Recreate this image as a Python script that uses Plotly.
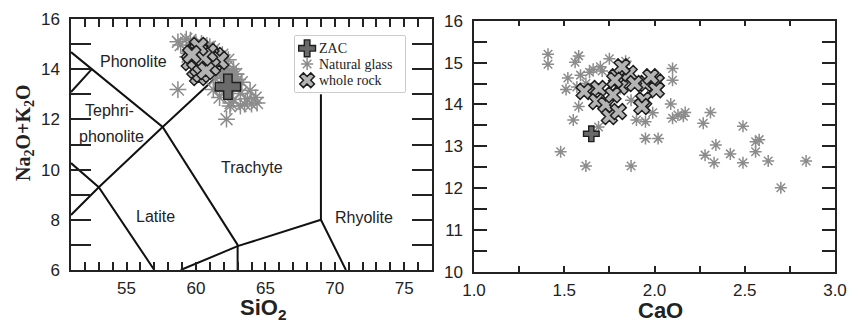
import plotly.graph_objects as go

# ---------------- data ----------------
# Natural glass: total alkali (shared), SiO2 (left panel), CaO (right panel)
glass_alkali = [15.20, 14.96, 15.01, 15.16, 14.63, 14.36, 14.70, 14.77, 14.84, 14.90,
                14.80, 15.09, 15.03, 14.42, 13.95, 13.63, 12.87, 12.53, 13.46, 12.53,
                13.63, 13.59, 13.19, 13.19, 13.80, 14.86, 14.58, 14.01, 13.67, 13.75,
                13.72, 13.81, 13.55, 13.81, 13.03, 12.79, 12.61, 12.82, 13.48, 12.61,
                13.11, 13.16, 12.87, 12.65, 12.65, 12.01, 14.10, 14.38, 14.50, 14.00,
                14.35]
glass_sio2 = [59.3, 58.9, 60.0, 59.6, 59.5, 60.2, 60.6, 60.9, 59.9, 61.0,
              61.3, 58.7, 60.4, 61.6, 61.9, 61.4, 61.7, 62.45, 62.9, 63.2,
              62.3, 63.0, 61.25, 58.7, 62.6, 60.8, 61.9, 62.7, 62.0, 61.8,
              62.4, 62.9, 62.4, 62.7, 63.2, 62.7, 63.5, 63.7, 63.3, 64.0,
              62.0, 63.9, 64.3, 62.5, 64.4, 62.2, 62.2, 62.33, 59.4, 61.0,
              60.7]
glass_cao = [1.41, 1.41, 1.56, 1.58, 1.52, 1.51, 1.59, 1.64, 1.66, 1.70,
             1.71, 1.75, 1.84, 1.57, 1.58, 1.55, 1.48, 1.62, 1.69, 1.87,
             1.90, 1.95, 1.95, 2.02, 1.99, 2.10, 2.10, 2.09, 2.10, 2.13,
             2.16, 2.17, 2.27, 2.31, 2.34, 2.28, 2.33, 2.42, 2.49, 2.49,
             2.56, 2.58, 2.56, 2.63, 2.84, 2.70, 1.87, 1.81, 1.62, 1.73,
             1.66]

# Whole rock
rock_alkali = [14.31, 14.38, 14.07, 13.99, 13.71, 13.83, 14.66, 14.42, 14.23, 14.74,
               14.50, 14.54, 14.35, 14.11, 13.95, 14.66, 14.50, 14.90, 14.58]
rock_sio2 = [59.6, 60.1, 60.3, 60.0, 60.2, 60.4, 59.9, 60.6, 61.2, 60.2,
             61.4, 61.0, 61.7, 61.1, 60.7, 60.9, 60.5, 60.2, 59.7]
rock_cao = [1.61, 1.69, 1.68, 1.73, 1.75, 1.80, 1.79, 1.81, 1.77, 1.86,
            1.95, 2.01, 2.01, 1.94, 1.93, 1.98, 1.89, 1.82, 1.78]

# ZAC
zac_alkali = [13.30]
zac_sio2 = [62.3]
zac_cao = [1.65]

# TAS field boundaries (segments separated by None)
tas_x = [51, 52.5, 57.6, 63, 63, None,
         51, 52.5, None,
         51, 53, 57.6, 61.5, None,
         51, 53, 57, None,
         58.9, 63, 69, 70.8, None,
         69, 69]
tas_y = [14.68, 14.0, 11.7, 7.0, 6.0, None,
         13.09, 14.0, None,
         8.19, 9.3, 11.7, 13.7, None,
         10.26, 9.3, 6.0, None,
         6.0, 6.95, 8.0, 6.0, None,
         8.0, 13.0]

field_names = ["Phonolite", "Tephri-", "phonolite", "Trachyte", "Latite", "Rhyolite"]
field_x = [55.5, 53.75, 53.95, 64.05, 57.1, 72.1]
field_y = [14.3, 12.37, 11.3, 10.1, 8.15, 8.1]

legend_names = ["ZAC", "Natural glass", "whole rock"]

# ---------------- figure ----------------
W, H = 862, 322
GLASS = "#8c8c8c"
ROCK_FILL = "#b4b4b4"
ZAC_FILL = "#6a6a6a"
DARK = "#1e1e1e"
SANS = "Liberation Sans, Arial, sans-serif"
SERIF = "Liberation Serif, Times New Roman, serif"

glass_m = lambda s: dict(symbol="asterisk-open", size=s, color=GLASS, line=dict(color=GLASS, width=1.5))
rock_m = lambda s: dict(symbol="x", size=s, color=ROCK_FILL, line=dict(color=DARK, width=1.5))
zac_m = lambda s: dict(symbol="cross", size=s, color=ZAC_FILL, line=dict(color=DARK, width=1.4))

fig = go.Figure()

fig.add_trace(go.Scatter(x=tas_x, y=tas_y, mode="lines", line=dict(color="#111", width=2),
                         hoverinfo="skip", xaxis="x", yaxis="y"))

# left panel
fig.add_trace(go.Scatter(x=glass_sio2, y=glass_alkali, mode="markers", name="Natural glass",
                         marker=glass_m(14), xaxis="x", yaxis="y"))
fig.add_trace(go.Scatter(x=rock_sio2, y=rock_alkali, mode="markers", name="whole rock",
                         marker=rock_m(16), xaxis="x", yaxis="y"))
fig.add_trace(go.Scatter(x=zac_sio2, y=zac_alkali, mode="markers", name="ZAC",
                         marker=zac_m(21), xaxis="x", yaxis="y"))

# right panel
fig.add_trace(go.Scatter(x=glass_cao, y=glass_alkali, mode="markers",
                         marker=glass_m(10), xaxis="x2", yaxis="y2"))
fig.add_trace(go.Scatter(x=rock_cao, y=rock_alkali, mode="markers",
                         marker=rock_m(14), xaxis="x2", yaxis="y2"))
fig.add_trace(go.Scatter(x=zac_cao, y=zac_alkali, mode="markers",
                         marker=zac_m(13), xaxis="x2", yaxis="y2"))

# custom legend (own hidden axes spanning the legend box)
leg_rows = [0.78, 0.5, 0.21]
for nm, ry, mk in zip(legend_names, leg_rows, [zac_m(14), glass_m(10), rock_m(13)]):
    fig.add_trace(go.Scatter(x=[0.11], y=[ry], mode="markers", marker=mk,
                             xaxis="x3", yaxis="y3", hoverinfo="skip"))

def axis(domain, rng, dtick, ticklen, minor_dtick, anchor, standoff, fmt=None):
    d = dict(domain=domain, range=rng, dtick=dtick, tick0=0, showgrid=False, zeroline=False,
             showline=True, linecolor="#222", linewidth=1.5, mirror="ticks",
             ticks="inside", ticklen=ticklen, tickwidth=1.5, tickcolor="#222",
             ticklabelstandoff=standoff,
             tickfont=dict(family=SANS, size=17, color="#222"), anchor=anchor,
             minor=dict(ticks="inside", dtick=minor_dtick, ticklen=ticklen, tickwidth=1.5,
                        tickcolor="#222", showgrid=False))
    if fmt:
        d["tickformat"] = fmt
    return d

fig.update_layout(
    width=W, height=H, margin=dict(l=0, r=0, t=0, b=0, autoexpand=False),
    paper_bgcolor="white", plot_bgcolor="white", showlegend=False,
    xaxis=axis([71 / W, 432 / W], [51, 77], 5, 8, 1, "y", 2),
    yaxis=axis([(H - 270) / H, (H - 19) / H], [6, 16], 2, 20, 1, "x", 6),
    xaxis2=axis([474 / W, 835 / W], [1, 3], 0.5, 6, 0.25, "y2", 2, ".1f"),
    yaxis2=axis([(H - 272) / H, (H - 20.7) / H], [10, 16], 1, 13, 0.5, "x2", 6),
    xaxis3=dict(domain=[295 / W, 405 / W], range=[0, 1], visible=False, anchor="y3"),
    yaxis3=dict(domain=[(H - 92) / H, (H - 36) / H], range=[0, 1], visible=False, anchor="x3"),
    shapes=[dict(type="rect", xref="paper", yref="paper", x0=295 / W, x1=405 / W,
                 y0=(H - 92) / H, y1=(H - 36) / H, line=dict(color="#999", width=1),
                 fillcolor="rgba(255,255,255,0)", layer="below")],
)

annotations = []
for name, fx, fy in zip(field_names, field_x, field_y):
    annotations.append(dict(x=fx, y=fy, xref="x", yref="y", text=name, showarrow=False,
                            font=dict(family=SANS, size=16, color="#222")))
for nm, ry in zip(legend_names, leg_rows):
    annotations.append(dict(x=0.2, y=ry, xref="x3", yref="y3", text=nm, showarrow=False,
                            xanchor="left", yanchor="middle",
                            font=dict(family=SERIF, size=14, color="#222")))
annotations.append(dict(x=263 / W, y=(H - 309) / H, xref="paper", yref="paper",
                        xanchor="center", yanchor="middle",
                        text="<b>SiO<sub>2</sub></b>", showarrow=False,
                        font=dict(family=SANS, size=22, color="#222")))
annotations.append(dict(x=660 / W, y=(H - 310) / H, xref="paper", yref="paper",
                        xanchor="center", yanchor="middle",
                        text="<b>CaO</b>", showarrow=False,
                        font=dict(family=SANS, size=22, color="#222")))
annotations.append(dict(x=25 / W, y=(H - 133) / H, xref="paper", yref="paper",
                        xanchor="center", yanchor="middle",
                        text="<b>Na<sub>2</sub>O+K<sub>2</sub>O</b>", showarrow=False,
                        textangle=-90,
                        font=dict(family=SERIF, size=20, color="#222")))
fig.update_layout(annotations=annotations)

fig.write_html("out.html")
